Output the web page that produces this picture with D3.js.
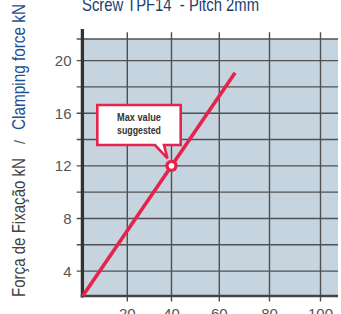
<!DOCTYPE html>
<html>
<head>
<meta charset="utf-8">
<script src="https://cdn.jsdelivr.net/npm/d3@7"></script>
<style>
  html, body { margin: 0; padding: 0; background: #fff; }
  svg { display: block; }
  text { white-space: pre; }
</style>
</head>
<body>
<div id="chart"></div>
<script>
// ---- data ----
const titleText = "Screw TPF14  - Pitch 2mm";
const yTitlePt = "Força de Fixação kN";
const yTitleSep = "/";
const yTitleEn = "Clamping force kN";
const xTickValues = [20, 40, 60, 80, 100];
const xTickLabels = ["20", "40", "60", "80", "100"];
const yTickValues = [4, 8, 12, 16, 20];
const yTickLabels = ["4", "8", "12", "16", "20"];
const yGridValues = [4, 6, 8, 10, 12, 14, 16, 18, 20];
const lineX = [0, 66.3];
const lineY = [2.11, 19.08];
const maxX = 40;
const maxY = 12;
const calloutLines = ["Max value", "suggested"];

// ---- layout ----
const W = 341, H = 314;
const plot = { left: 82.7, right: 338, top: 39, bottom: 296 };

const svg = d3.select("#chart").append("svg").attr("width", W).attr("height", H);

const x = d3.scaleLinear()
  .domain([0, 20, 40, 60, 80, 100])
  .range([plot.left, 127.3, 171.5, 219.3, 269.5, 320.5]);
const y = d3.scaleLinear().domain([2.11, 21.64]).range([plot.bottom, plot.top]);

// background
svg.append("rect")
  .attr("x", plot.left).attr("y", plot.top)
  .attr("width", plot.right - plot.left).attr("height", plot.bottom - plot.top)
  .attr("fill", "#c6d4df");

const gridColor = "#505050";
// horizontal grid + left ticks
svg.append("g").selectAll("line").data(yGridValues.concat([y.domain()[1]])).join("line")
  .attr("x1", 76.7).attr("x2", plot.right)
  .attr("y1", d => y(d)).attr("y2", d => y(d))
  .attr("stroke", gridColor).attr("stroke-width", 1.4);

// vertical grid + ticks
svg.append("g").selectAll("line").data(xTickValues).join("line")
  .attr("x1", d => x(d)).attr("x2", d => x(d))
  .attr("y1", 32.3).attr("y2", 301.5)
  .attr("stroke", gridColor).attr("stroke-width", 1.4);

// axes
svg.append("line")
  .attr("x1", plot.left - 0.3).attr("x2", plot.left - 0.3)
  .attr("y1", 29).attr("y2", plot.bottom + 1.5)
  .attr("stroke", "#333").attr("stroke-width", 3.3);
svg.append("line")
  .attr("x1", 80.7).attr("x2", plot.right)
  .attr("y1", plot.bottom).attr("y2", plot.bottom)
  .attr("stroke", "#444").attr("stroke-width", 2.6);

// tick labels
svg.append("g").selectAll("text").data(yTickValues).join("text")
  .attr("x", 71.5).attr("y", d => y(d)).attr("dy", "0.36em")
  .attr("text-anchor", "end")
  .attr("font-family", "Liberation Sans, Arial, sans-serif")
  .attr("font-size", 15).attr("fill", "#555")
  .text((d, i) => yTickLabels[i]);

svg.append("g").selectAll("text").data(xTickValues).join("text")
  .attr("x", d => x(d)).attr("y", 318.7)
  .attr("text-anchor", "middle")
  .attr("font-family", "Liberation Sans, Arial, sans-serif")
  .attr("font-size", 15).attr("fill", "#555")
  .text((d, i) => xTickLabels[i]);

// data line
const red = "#e6234c";
const pts = lineX.map((v, i) => [v, lineY[i]]);
svg.append("path")
  .attr("d", d3.line().x(d => x(d[0])).y(d => y(d[1]))(pts))
  .attr("fill", "none").attr("stroke", red).attr("stroke-width", 3.6);

// callout
const mx = x(maxX), my = y(maxY);
const bx0 = mx - 74.2, bx1 = mx + 9.2, by0 = my - 60.8, by1 = my - 20.8;
const p = d3.path();
p.moveTo(bx0, by0); p.lineTo(bx1, by0); p.lineTo(bx1, by1);
p.lineTo(mx - 7.5, by1); p.lineTo(mx - 4, my - 7.5); p.lineTo(mx - 16.5, by1);
p.lineTo(bx0, by1); p.closePath();
svg.append("path").attr("d", p.toString())
  .attr("fill", "#fff").attr("stroke", red).attr("stroke-width", 2.6)
  .attr("stroke-linejoin", "miter");

const ct = svg.append("text")
  .attr("text-anchor", "middle")
  .attr("font-family", "Liberation Sans Narrow, Liberation Sans, Arial, sans-serif")
  .attr("font-weight", "bold").attr("font-size", 11).attr("fill", "#333");
ct.selectAll("tspan").data(calloutLines).join("tspan")
  .attr("x", (bx0 + bx1) / 2).attr("y", (d, i) => by0 + 16.3 + i * 12.6)
  .attr("textLength", 44).attr("lengthAdjust", "spacingAndGlyphs")
  .text(d => d);

// marker
svg.append("circle").attr("cx", mx).attr("cy", my).attr("r", 6.2).attr("fill", red);
svg.append("circle").attr("cx", mx).attr("cy", my).attr("r", 2.8).attr("fill", "#fff");

// title
svg.append("text")
  .attr("x", 82).attr("y", 10.7)
  .attr("font-family", "Liberation Sans, Arial, sans-serif")
  .attr("font-size", 19).attr("fill", "#1c3f70")
  .attr("textLength", 177).attr("lengthAdjust", "spacingAndGlyphs")
  .text(titleText);

// y title
const yt = svg.append("g").attr("font-family", "Liberation Sans, Arial, sans-serif").attr("font-size", 19);
yt.append("text").attr("transform", "translate(25,297) rotate(-90)")
  .attr("fill", "#444").attr("textLength", 139).attr("lengthAdjust", "spacingAndGlyphs")
  .text(yTitlePt);
yt.append("text").attr("transform", "translate(25,142) rotate(-90)")
  .attr("text-anchor", "middle").attr("font-size", 14)
  .attr("fill", "#555")
  .text(yTitleSep);
yt.append("text").attr("transform", "translate(25,130) rotate(-90)")
  .attr("fill", "#1f4f8f").attr("textLength", 126).attr("lengthAdjust", "spacingAndGlyphs")
  .text(yTitleEn);
</script>
</body>
</html>
